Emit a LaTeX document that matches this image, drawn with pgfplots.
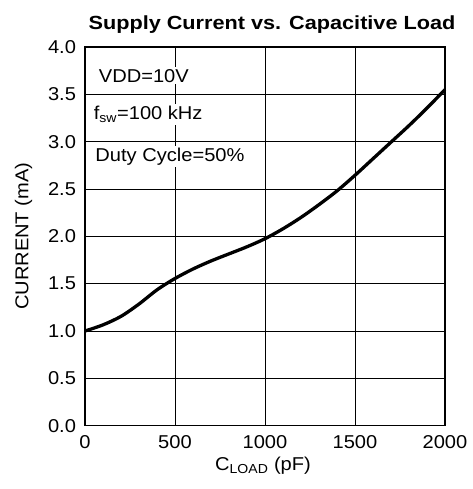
\documentclass[border=0pt]{standalone}
\usepackage{fontspec}
\setmainfont{Liberation Sans}[FakeStretch=1.08]
\newfontfamily\titlefont{Liberation Sans Bold}[FakeStretch=1.14]
\usepackage{pgfplots}
\pgfplotsset{compat=1.18}
\usetikzlibrary{calc}
\begin{document}
\begin{tikzpicture}[font=\fontsize{18.6}{22}\selectfont]
\begin{axis}[
  scale only axis, width=360pt, height=378.7pt,
  xmin=0, xmax=2000, ymin=0, ymax=4,
  xtick={0,500,1000,1500,2000},
  ytick={0,0.5,1,1.5,2,2.5,3,3.5,4},
  grid=major, major grid style={black, line width=0.9pt},
  axis line style={line width=1.4pt},
  tick style={draw=none},
  xticklabel style={yshift=-6pt, /pgf/number format/.cd, set thousands separator={}, assume math mode=true},
  yticklabel style={xshift=-5.5pt, /pgf/number format/.cd, fixed, fixed zerofill, precision=1, assume math mode=true},
  every axis y label/.style={at={(rel axis cs:0,0.5)}, xshift=-61.5pt, rotate=90, anchor=center},
  every axis x label/.style={at={(rel axis cs:0.5,0)}, yshift=-44.3pt, xshift=-2pt, anchor=base},
  ylabel={CURRENT (mA)},
  xlabel={C\textsubscript{LOAD} (pF)},
  clip=false,
]
\addplot[black, line width=3.3pt, smooth, tension=0.5] coordinates {
(0,1.00) (100,1.065) (200,1.155) (300,1.285) (400,1.435) (500,1.555)
(600,1.655) (700,1.74) (800,1.815) (900,1.89) (1000,1.975) (1100,2.08)
(1200,2.20) (1300,2.335) (1400,2.48) (1500,2.645) (1600,2.82) (1700,2.995)
(1800,3.17) (1900,3.355) (2000,3.55)
};
\node[fill=white, inner sep=2pt, anchor=base west] at (axis cs:65,3.63) {VDD=10V};
\node[fill=white, inner sep=2pt, anchor=base west] at (axis cs:37,3.23) {f\textsubscript{sw}=100 kHz};
\node[fill=white, inner sep=2pt, anchor=base west] at (axis cs:46,2.79) {Duty Cycle=50\%};
\node[anchor=base, font=\titlefont\fontsize{19}{22}\selectfont] at ($(rel axis cs:0.5,1)+(7pt,17pt)$) {Supply Current vs. Capacitive Load};
\coordinate (O) at (rel axis cs:0,0);
\end{axis}
\pgfresetboundingbox
\path ($(O)+(-85pt,-63.3pt)$) rectangle ++(472pt,489pt);
\end{tikzpicture}
\end{document}
